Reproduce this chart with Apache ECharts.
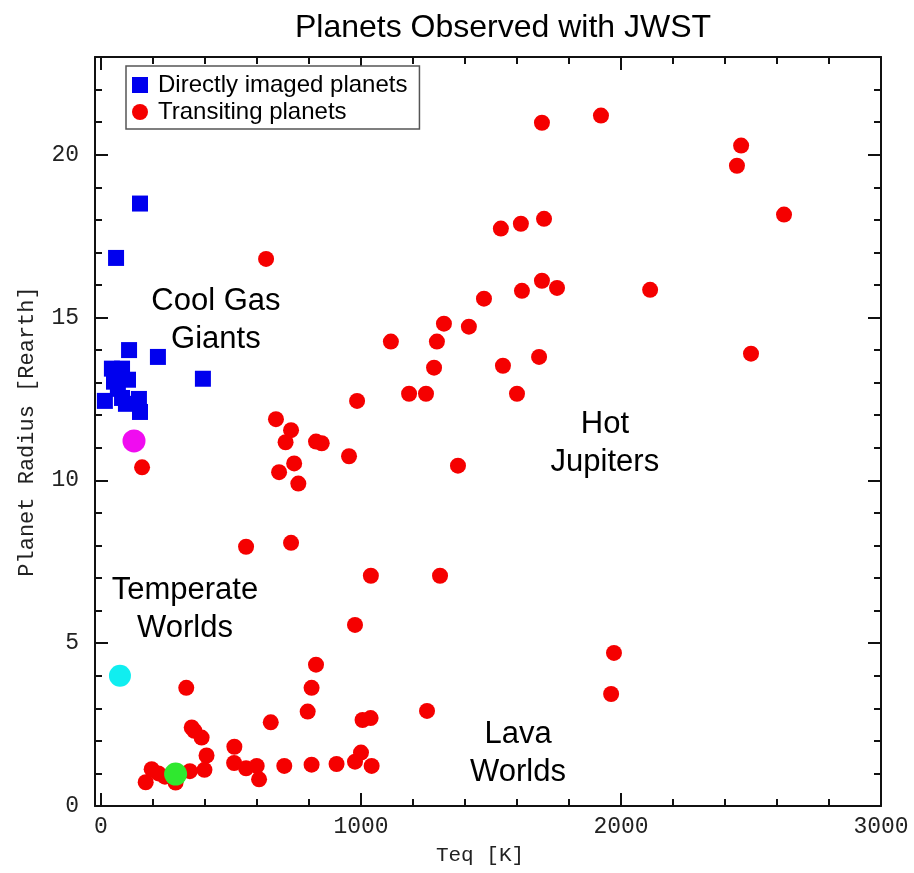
<!DOCTYPE html>
<html>
<head>
<meta charset="utf-8">
<script src="https://cdn.jsdelivr.net/npm/echarts@6/dist/echarts.min.js"></script>
<style>html,body{margin:0;padding:0;background:#fff}#c{width:914px;height:873px}</style>
</head>
<body>
<div id="c"></div>
<script>
// ---- Data ----
const X_MIN = -23, X_MAX = 3000, Y_MIN = 0, Y_MAX = 23;
const xMajorTicks = [0, 1000, 2000, 3000];
const xMinorTicks = [200, 400, 600, 800, 1200, 1400, 1600, 1800, 2200, 2400, 2600, 2800];
const yMajorTicks = [0, 5, 10, 15, 20];
const yMinorTicks = [1, 2, 3, 4, 6, 7, 8, 9, 11, 12, 13, 14, 16, 17, 18, 19, 21, 22];

const directTeq    = [150, 58, 108, 219, 392, 15, 42, 81, 104, 50, 65, 81, 146, 96, 150];
const directRadius = [18.5, 16.83, 14.0, 13.79, 13.12, 12.44, 13.43, 13.43, 13.09, 13.03, 12.81, 12.53, 12.5, 12.35, 12.1];

const transitTeq = [172, 195, 221, 246, 287, 342, 328, 349, 359, 387, 406, 398, 513, 512, 558, 599, 608, 653, 705, 795,
  810, 827, 810, 906, 977, 1000, 1006, 1037, 1041,
  158, 558, 731, 977, 1038, 1304, 1973, 1962, 1254, 635, 673, 731, 710, 827, 849, 954, 743, 685, 759,
  985, 1115, 1185, 1250, 1281, 1292, 1319, 1373, 1415, 1473, 1538, 1546, 1615, 1600, 1619, 1696, 1704, 1696,
  1754, 1685, 1923, 2112, 2446, 2462, 2500, 2627];
const transitRadius = [0.73, 1.13, 1.0, 0.9, 0.72, 1.07, 3.63, 2.41, 2.31, 2.10, 1.55, 1.11, 1.82, 1.32, 1.16, 1.23, 0.82, 2.57, 1.23, 2.90,
  3.63, 4.34, 1.27, 1.29, 1.36, 1.64, 2.64, 2.70, 1.23,
  10.4, 7.96, 8.08, 5.56, 7.07, 7.07, 4.70, 3.44, 2.92, 16.8, 11.88, 11.54, 11.17, 11.19, 11.14, 10.74, 10.52, 10.25, 9.9,
  12.44, 14.26, 12.66, 12.66, 13.46, 14.26, 14.81, 10.45, 14.72, 15.58, 17.73, 13.52, 17.88, 12.66, 15.82, 20.98, 18.03, 16.13,
  15.91, 13.79, 21.2, 15.85, 19.66, 20.28, 13.89, 18.16];

const magentaPoint = [127, 11.21];
const cyanPoint = [73, 4.0];
const greenPoint = [287, 0.98];

const annotations = [
  [442, 14.9, 'Cool Gas\nGiants'],
  [1938, 11.12, 'Hot\nJupiters'],
  [323, 6.05, 'Temperate\nWorlds'],
  [1604, 1.6, 'Lava\nWorlds']
];

// ---- Chart ----
const zip = (a, b) => a.map((v, i) => [v, b[i]]);
const AX = '#111';
const labelFont = { fontFamily: 'Liberation Mono', fontSize: 23, color: '#222' };

function xAx(pos, ticks, len, withLabels, withLine) {
  return {
    type: 'value', position: pos, min: X_MIN, max: X_MAX,
    axisLine: { show: withLine, onZero: false, lineStyle: { color: AX, width: 2 } },
    axisTick: { show: true, inside: true, length: len, customValues: ticks, lineStyle: { color: AX, width: 2 } },
    axisLabel: withLabels ? Object.assign({ show: true, customValues: ticks, margin: 9, formatter: v => String(v) }, labelFont) : { show: false },
    splitLine: { show: false }
  };
}
function yAx(pos, ticks, len, withLabels, withLine) {
  return {
    type: 'value', position: pos, min: Y_MIN, max: Y_MAX,
    axisLine: { show: withLine, onZero: false, lineStyle: { color: AX, width: 2 } },
    axisTick: { show: true, inside: true, length: len, customValues: ticks, lineStyle: { color: AX, width: 2 } },
    axisLabel: withLabels ? Object.assign({ show: true, customValues: ticks, margin: 16, formatter: v => String(v) }, labelFont) : { show: false },
    splitLine: { show: false }
  };
}

const xAxes = [
  xAx('bottom', xMajorTicks, 13, true, true),
  xAx('bottom', xMinorTicks, 7, false, false),
  xAx('top', xMajorTicks, 13, false, true),
  xAx('top', xMinorTicks, 7, false, false)
];
Object.assign(xAxes[0], {
  name: 'Teq [K]', nameLocation: 'middle', nameGap: 39,
  nameTextStyle: { fontFamily: 'Liberation Mono', fontSize: 21, color: '#222', padding: [0, 16, 0, 0] }
});
const yAxes = [
  yAx('left', yMajorTicks, 13, true, true),
  yAx('left', yMinorTicks, 7, false, false),
  yAx('right', yMajorTicks, 13, false, true),
  yAx('right', yMinorTicks, 7, false, false)
];
Object.assign(yAxes[0], {
  name: 'Planet Radius [Rearth]', nameLocation: 'middle', nameGap: 57,
  nameTextStyle: { fontFamily: 'Liberation Mono', fontSize: 22, color: '#222' }
});

const chart = echarts.init(document.getElementById('c'), null, { renderer: 'canvas' });
chart.setOption({
  animation: false,
  backgroundColor: '#fff',
  title: {
    text: 'Planets Observed with JWST', left: 498, top: 7, textAlign: 'center',
    textStyle: { fontFamily: 'Liberation Sans', fontSize: 32, fontWeight: 'normal', color: '#000' }
  },
  grid: { left: 95, right: 33, top: 57, bottom: 67, containLabel: false },
  xAxis: xAxes,
  yAxis: yAxes,
  legend: {
    data: [{ name: 'Directly imaged planets', icon: 'rect' }, { name: 'Transiting planets', icon: 'circle' }],
    orient: 'vertical', left: 126, top: 66,
    itemWidth: 16, itemHeight: 16, itemGap: 3,
    padding: [7, 12, 5, 6],
    borderColor: '#555', borderWidth: 1.5, backgroundColor: '#fff',
    textStyle: { fontFamily: 'Liberation Sans', fontSize: 24, color: '#000', padding: [0, 0, 0, 5] }
  },
  series: [
    { name: 'Directly imaged planets', type: 'scatter', symbol: 'rect', symbolSize: 16,
      itemStyle: { color: '#0000ee', opacity: 1 }, data: zip(directTeq, directRadius), z: 3 },
    { name: 'Transiting planets', type: 'scatter', symbol: 'circle', symbolSize: 16,
      itemStyle: { color: '#f50000', opacity: 1 }, data: zip(transitTeq, transitRadius), z: 3 },
    { name: 'Magenta', type: 'scatter', symbol: 'circle', symbolSize: 23,
      itemStyle: { color: '#f00cf0', opacity: 1 }, data: [magentaPoint], z: 4 },
    { name: 'Cyan', type: 'scatter', symbol: 'circle', symbolSize: 22,
      itemStyle: { color: '#10eef0', opacity: 1 }, data: [cyanPoint], z: 4 },
    { name: 'Green', type: 'scatter', symbol: 'circle', symbolSize: 23,
      itemStyle: { color: '#2fe82f', opacity: 1 }, data: [greenPoint], z: 4 },
    { name: 'Regions', type: 'scatter', symbolSize: 0, silent: true, z: 5,
      itemStyle: { opacity: 1 },
      data: annotations,
      label: { show: true, position: 'inside', formatter: p => p.value[2],
        fontFamily: 'Liberation Sans', fontSize: 31, lineHeight: 38, color: '#000',
        textBorderWidth: 0, opacity: 1 } }
  ]
});
</script>
</body>
</html>
